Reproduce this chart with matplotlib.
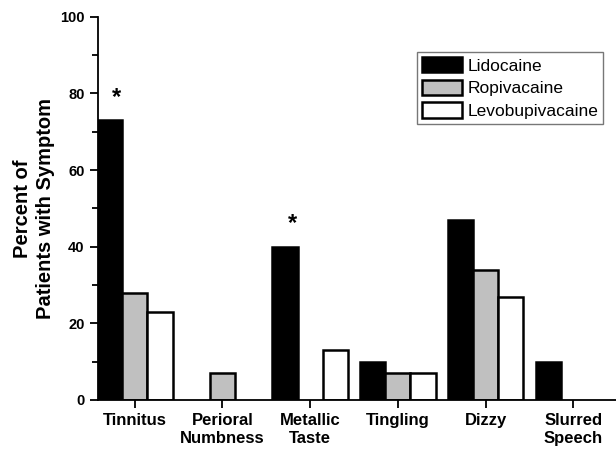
import numpy as np
import matplotlib
matplotlib.use('Agg')
import matplotlib.pyplot as plt

plt.rcParams['font.family'] = ['Liberation Sans', 'DejaVu Sans']

sintomas = ['Tinnitus', 'Perioral\nNumbness', 'Metallic\nTaste', 'Tingling', 'Dizzy', 'Slurred\nSpeech']
lidocaina = [73, 0, 40, 10, 47, 10]
ropivacaina = [28, 7, 0, 7, 34, 0]
levobupivacaina = [23, 0, 13, 7, 27, 0]
series_nomes = ['Lidocaine', 'Ropivacaine', 'Levobupivacaine']
asteriscos = [(0, 73), (2, 40)]

fig = plt.figure(figsize=(6.16, 4.53), dpi=100)
ax = fig.add_axes([0.159, 0.117, 0.85, 0.846])

x = np.arange(len(sintomas))
w = 0.287
cores = ['black', '#c0c0c0', 'white']
for i, (vals, nome, cor) in enumerate(zip([lidocaina, ropivacaina, levobupivacaina], series_nomes, cores)):
  # barras com valor zero nao aparecem
  v = np.array(vals, dtype=float)
  mask = v > 0
  ax.bar(x[mask] + (i - 1) * w, v[mask], width=w, color=cor, edgecolor='black',
         linewidth=1.8, label=nome, zorder=2)

for idx, val in asteriscos:
  ax.text(idx - w + 0.08, val + 3, '*', ha='center', va='bottom', fontsize=17, fontweight='bold')

ax.set_ylim(0, 100)
ax.set_xlim(-0.42, 5.55)
ax.set_yticks([0, 20, 40, 60, 80, 100])
ax.set_yticks([10, 30, 50, 70, 90], minor=True)
ax.set_xticks(x)
ax.set_xticklabels(sintomas, fontsize=12, fontweight='bold')
for lab in ax.get_yticklabels():
  lab.set_fontweight('bold')
  lab.set_fontsize(10.5)
ax.tick_params(axis='both', which='major', direction='out', length=6, width=1.3)
ax.tick_params(axis='y', which='minor', direction='out', length=4, width=1.3)
ax.spines['top'].set_visible(False)
ax.spines['right'].set_visible(False)
ax.spines['left'].set_linewidth(1.3)
ax.spines['bottom'].set_linewidth(1.3)

ax.set_ylabel('Percent of\nPatients with Symptom', fontsize=14.5, fontweight='bold', labelpad=4,
              linespacing=1.25)

leg = ax.legend(loc='upper right', bbox_to_anchor=(0.965, 0.909), fontsize=12.5, frameon=True,
                fancybox=False, edgecolor='#555555', handlelength=2.3, handleheight=1.0,
                handletextpad=0.3, labelspacing=0.35, borderpad=0.3, borderaxespad=0)
leg.get_frame().set_linewidth(1.0)

fig.savefig('out.png', dpi=100)
